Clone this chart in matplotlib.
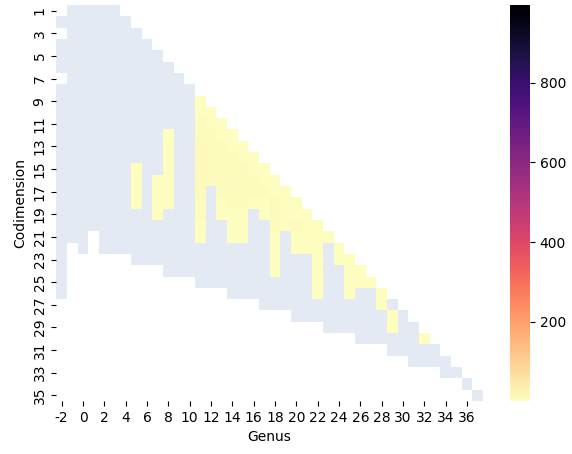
import numpy as np
import matplotlib
matplotlib.use("Agg")
from matplotlib import pyplot as plt
from matplotlib.colors import ListedColormap
import seaborn as sns

# eixos da grade
genus = list(range(-2, 38))
codim = list(range(1, 36))

# primeira e ultima codimensao calculada para cada genus
first_codim = [2, 1, 1, 1, 1, 1, 2, 3, 4, 5, 6, 7, 8, 9, 10, 11, 12, 13, 14, 15,
               16, 17, 18, 19, 20, 21, 22, 23, 24, 25, 26, 27, 28, 29, 30, 31, 32, 33, 34, 35]
last_codim = [26, 21, 22, 20, 22, 22, 22, 23, 23, 23, 24, 24, 24, 25, 25, 25, 26, 26, 26, 27,
              27, 27, 28, 28, 28, 29, 29, 29, 30, 30, 30, 31, 31, 32, 32, 32, 33, 33, 34, 35]

# celulas sem dado (genus, codim)
missing = [(-2, 3), (-2, 7)]

# celulas com contagem > 0: genus, codim inicial, valores
hit_genus = [5, 7, 8, 11, 12, 13, 14, 15, 16, 17, 18, 19, 20, 21, 22, 23, 24, 25, 26, 27, 28, 29, 32]
hit_start = [15, 16, 12, 9, 10, 11, 12, 13, 14, 15, 16, 17, 18, 19, 20, 21, 22, 23, 24, 25, 26, 28, 30]
hit_values = [
    [2, 3, 3, 2],
    [2, 3, 3, 2],
    [2, 2, 3, 3, 3, 3, 2],
    [2, 3, 5, 8, 11, 12, 12, 11, 10, 8, 6, 3, 2],
    [2, 4, 6, 8, 8, 7, 5],
    [2, 4, 6, 8, 8, 7, 5, 4, 2],
    [2, 3, 5, 7, 8, 7, 6, 4, 3, 2],
    [2, 3, 5, 6, 6, 5, 4, 3, 2],
    [3, 4, 6, 5, 3],
    [3, 4, 5, 4, 3],
    [2, 3, 5, 6, 5, 4, 3, 2, 2],
    [3, 4, 4, 2],
    [2, 4, 5, 4, 2],
    [3, 4, 4, 2],
    [2, 3, 4, 3, 3, 2, 2],
    [2],
    [2, 3],
    [2, 3, 2, 2],
    [2, 2],
    [2],
    [2, 2],
    [2, 2],
    [2],
]

# monta a matriz (linhas = codim, colunas = genus)
dados = np.full((len(codim), len(genus)), np.nan)
for j, g in enumerate(genus):
    for k in range(first_codim[j], last_codim[j] + 1):
        dados[k - 1, j] = 0
for g, k in missing:
    dados[k - 1, genus.index(g)] = np.nan
for g, s, vals in zip(hit_genus, hit_start, hit_values):
    for i, v in enumerate(vals):
        dados[s - 1 + i, genus.index(g)] = v

fig = plt.figure(figsize=(5.72, 4.54), dpi=100)
ax = fig.add_axes([0.0985, 0.1167, 0.7459, 0.8723])
cax = fig.add_axes([0.8916, 0.1167, 0.035, 0.8723])

# camada azul clara: celulas calculadas com zero
zeros = np.where(dados == 0, 1.0, np.nan)
sns.heatmap(zeros, ax=ax, cmap=ListedColormap(["#e4eaf3"]), cbar=False,
            xticklabels=genus, yticklabels=codim)

# camada de contagens
contagem = np.where(dados > 0, dados, np.nan)
sns.heatmap(contagem, ax=ax, cmap="magma_r", vmin=1, vmax=995, cbar_ax=cax,
            xticklabels=genus, yticklabels=codim)

ax.set_xticks(np.arange(0, len(genus), 2) + 0.5)
ax.set_xticklabels(genus[::2], rotation=0)
ax.set_yticks(np.arange(0, len(codim), 2) + 0.5)
ax.set_yticklabels(codim[::2], rotation=90, va="center")
ax.set_xlabel("Genus")
ax.set_ylabel("Codimension")

cax.set_yticks([200, 400, 600, 800])

fig.savefig("out.png", dpi=100)
